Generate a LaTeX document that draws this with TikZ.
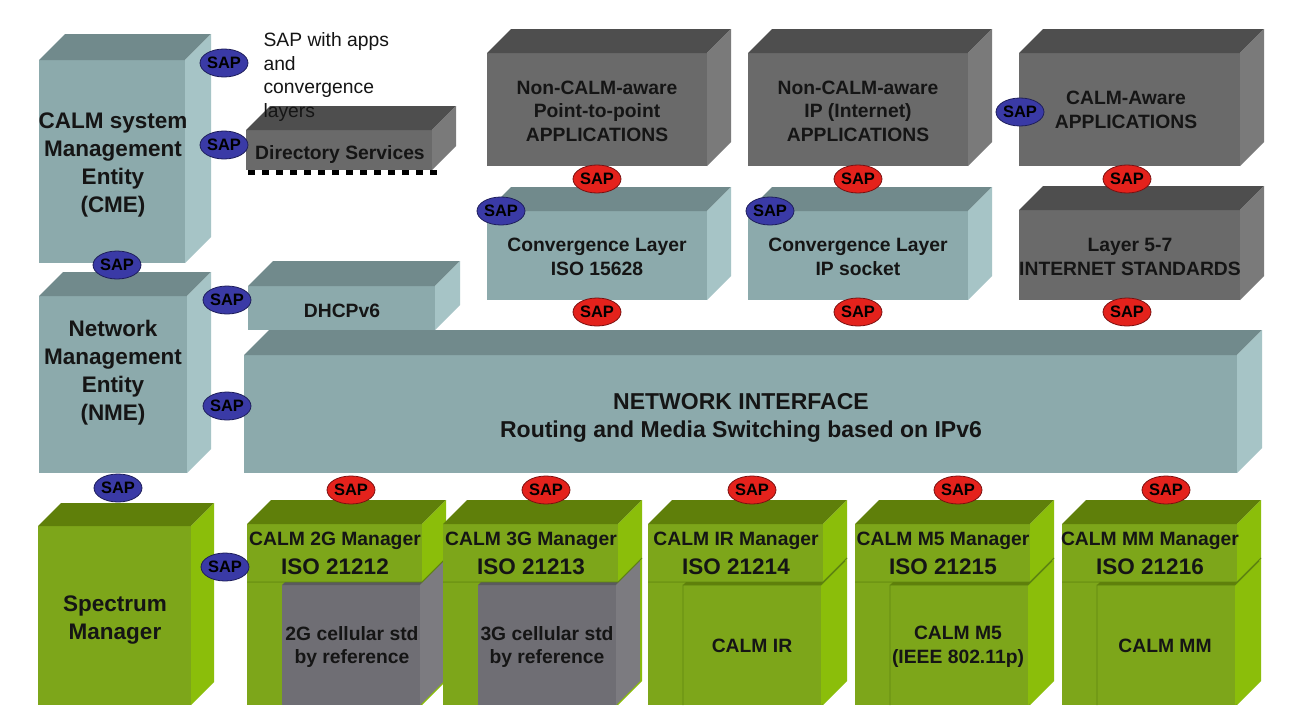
\documentclass[tikz,border=0pt]{standalone}
\usepackage{fontspec}
\setmainfont{Liberation Sans}
\usetikzlibrary{shapes.geometric}
\definecolor{ttop}{HTML}{718A8C}
\definecolor{tfront}{HTML}{8CAAAC}
\definecolor{tside}{HTML}{A6C4C6}
\definecolor{gtop}{HTML}{4E4E4E}
\definecolor{gfront}{HTML}{6A6A6A}
\definecolor{gside}{HTML}{7A7A7A}
\definecolor{itop}{HTML}{5A5A5E}
\definecolor{ifront}{HTML}{6F6E74}
\definecolor{iside}{HTML}{7C7B80}
\definecolor{ntop}{HTML}{5F7F0A}
\definecolor{nfront}{HTML}{7DA61A}
\definecolor{nside}{HTML}{8BBE0A}
\definecolor{ndark}{HTML}{5E8410}
\definecolor{sapblue}{HTML}{3A3AA6}
\definecolor{sapblueD}{HTML}{1E1E5A}
\definecolor{sapred}{HTML}{E4221C}
\definecolor{sapredD}{HTML}{7A1010}
\definecolor{txt}{HTML}{151515}
\newcommand{\cube}[6]{%
  \fill[#6front] (#1,#2) rectangle (#3,#4);
  \fill[#6top] (#1,#2) -- (#1+#5,#2-#5) -- (#3+#5,#2-#5) -- (#3,#2) -- cycle;
  \fill[#6side] (#3,#2) -- (#3+#5,#2-#5) -- (#3+#5,#4-#5) -- (#3,#4) -- cycle;
}
% manager column: #1 = left x, #2 = inner colour prefix
\newcommand{\mgr}[2]{%
  \cube{#1}{582}{#1+175}{705}{24}{n}
  \cube{#1+35}{585}{#1+173}{705}{24}{#2}
  \cube{#1}{524}{#1+175}{582}{24}{n}
  \draw[ndark, line width=0.8] (#1,582) -- (#1+175,582) -- (#1+199,558);
}
\tikzset{
  big/.style={align=center, text=txt, font=\bfseries\fontsize{22.5}{28}\selectfont},
  mid/.style={align=center, text=txt, font=\bfseries\fontsize{19.3}{23.5}\selectfont},
  ni/.style={align=center, text=txt, font=\bfseries\fontsize{23}{28}\selectfont},
  mgrname/.style={align=center, text=txt, font=\bfseries\fontsize{19.3}{22}\selectfont},
  iso/.style={align=center, text=txt, font=\bfseries\fontsize{22.5}{24}\selectfont},
  note/.style={align=left, anchor=west, text=txt, font=\fontsize{19.3}{23.5}\selectfont},
  sapb/.style={ellipse, fill=sapblue, draw=sapblueD, line width=0.8, minimum width=45, minimum height=28, inner sep=0, text=black, font=\bfseries\fontsize{16.5}{16.5}\selectfont},
  sapr/.style={sapb, fill=sapred, draw=sapredD},
}
\begin{document}
\begin{tikzpicture}[x=1pt,y=-1pt]
\useasboundingbox (0,0) rectangle (1315,707);
\fill[white] (0,0) rectangle (1315,707);

% left column
\cube{39}{60}{185}{263}{26}{t}
\cube{39}{296}{187}{473}{24}{t}
\cube{38}{526}{191}{705}{23}{n}

% directory services and DHCPv6
\cube{246}{130}{432}{170}{24}{g}
\draw[black, line width=5, dash pattern=on 7 off 7] (248,172) -- (438,172);
\cube{248}{286}{435}{330}{25}{t}

% network interface
\cube{244}{355}{1237}{473}{25}{t}

% applications
\cube{487}{53}{707}{166}{24}{g}
\cube{748}{53}{968}{166}{24}{g}
\cube{1019}{53}{1240}{166}{24}{g}
% convergence layers and layer 5-7
\cube{487}{211}{707}{300}{24}{t}
\cube{748}{211}{968}{300}{24}{t}
\cube{1019}{210}{1240}{300}{24}{g}

% managers
\mgr{247}{i}
\mgr{443}{i}
\mgr{648}{n}
\mgr{855}{n}
\mgr{1062}{n}
\foreach \x in {648,855,1062}{
  \draw[ndark, line width=0.8] (\x+35,705) -- (\x+35,585) -- (\x+173,585) -- (\x+197,561);
}

% texts
\node[big] (cme) at (113,165) {CALM system\\Management\\Entity\\(CME)};
\node[big] (nme) at (113,373) {Network\\Management\\Entity\\(NME)};
\node[big] (spec) at (115,620) {Spectrum\\Manager};
\node[mid] (dir) at (340,155) {Directory Services};
\node[mid] (dhcp) at (342,311) {DHCPv6};
\node[ni] (netif) at (741,418) {NETWORK INTERFACE\\Routing and Media Switching based on IPv6};
\node[mid] (p2p) at (597,111) {Non-CALM-aware\\Point-to-point\\APPLICATIONS};
\node[mid] (ipapp) at (858,111) {Non-CALM-aware\\IP (Internet)\\APPLICATIONS};
\node[mid] (aware) at (1126,110) {CALM-Aware\\APPLICATIONS};
\node[mid] (conviso) at (597,257) {Convergence Layer\\ISO 15628};
\node[mid] (convip) at (858,257) {Convergence Layer\\IP socket};
\node[mid] (l57) at (1130,257) {Layer 5-7\\INTERNET STANDARDS};
\node[note] (sapnote) at (260,77) {SAP with apps\\and\\convergence\\layers};

\node[mgrname] (m2g) at (335,541) {CALM 2G Manager};
\node[iso] (i2g) at (335,567) {ISO 21212};
\node[mgrname] (m3g) at (531,541) {CALM 3G Manager};
\node[iso] (i3g) at (531,567) {ISO 21213};
\node[mgrname] (mir) at (736,541) {CALM IR Manager};
\node[iso] (iir) at (736,567) {ISO 21214};
\node[mgrname] (mm5) at (943,541) {CALM M5 Manager};
\node[iso] (im5) at (943,567) {ISO 21215};
\node[mgrname] (mmm) at (1150,541) {CALM MM Manager};
\node[iso] (imm) at (1150,567) {ISO 21216};

\node[mid] (c2g) at (352,647) {2G cellular std\\by reference};
\node[mid] (c3g) at (547,647) {3G cellular std\\by reference};
\node[mid] (cir) at (752,646) {CALM IR};
\node[mid] (cm5) at (958,647) {CALM M5\\(IEEE 802.11p)};
\node[mid] (cmm) at (1165,646) {CALM MM};

% blue SAPs
\node[sapb] (sb1) at (224,63) {SAP};
\node[sapb] (sb2) at (224,145) {SAP};
\node[sapb] (sb3) at (117,265) {SAP};
\node[sapb] (sb4) at (227,300) {SAP};
\node[sapb] (sb5) at (227,406) {SAP};
\node[sapb] (sb6) at (118,488) {SAP};
\node[sapb] (sb7) at (225,567) {SAP};
\node[sapb] (sb8) at (1020,112) {SAP};
\node[sapb] (sb9) at (501,211) {SAP};
\node[sapb] (sb10) at (770,211) {SAP};

% red SAPs
\node[sapr] (sr1) at (597,179) {SAP};
\node[sapr] (sr2) at (858,179) {SAP};
\node[sapr] (sr3) at (1127,179) {SAP};
\node[sapr] (sr4) at (597,312) {SAP};
\node[sapr] (sr5) at (858,312) {SAP};
\node[sapr] (sr6) at (1127,312) {SAP};
\node[sapr] (sr7) at (351,490) {SAP};
\node[sapr] (sr8) at (546,490) {SAP};
\node[sapr] (sr9) at (752,490) {SAP};
\node[sapr] (sr10) at (958,490) {SAP};
\node[sapr] (sr11) at (1166,490) {SAP};
\end{tikzpicture}
\end{document}
